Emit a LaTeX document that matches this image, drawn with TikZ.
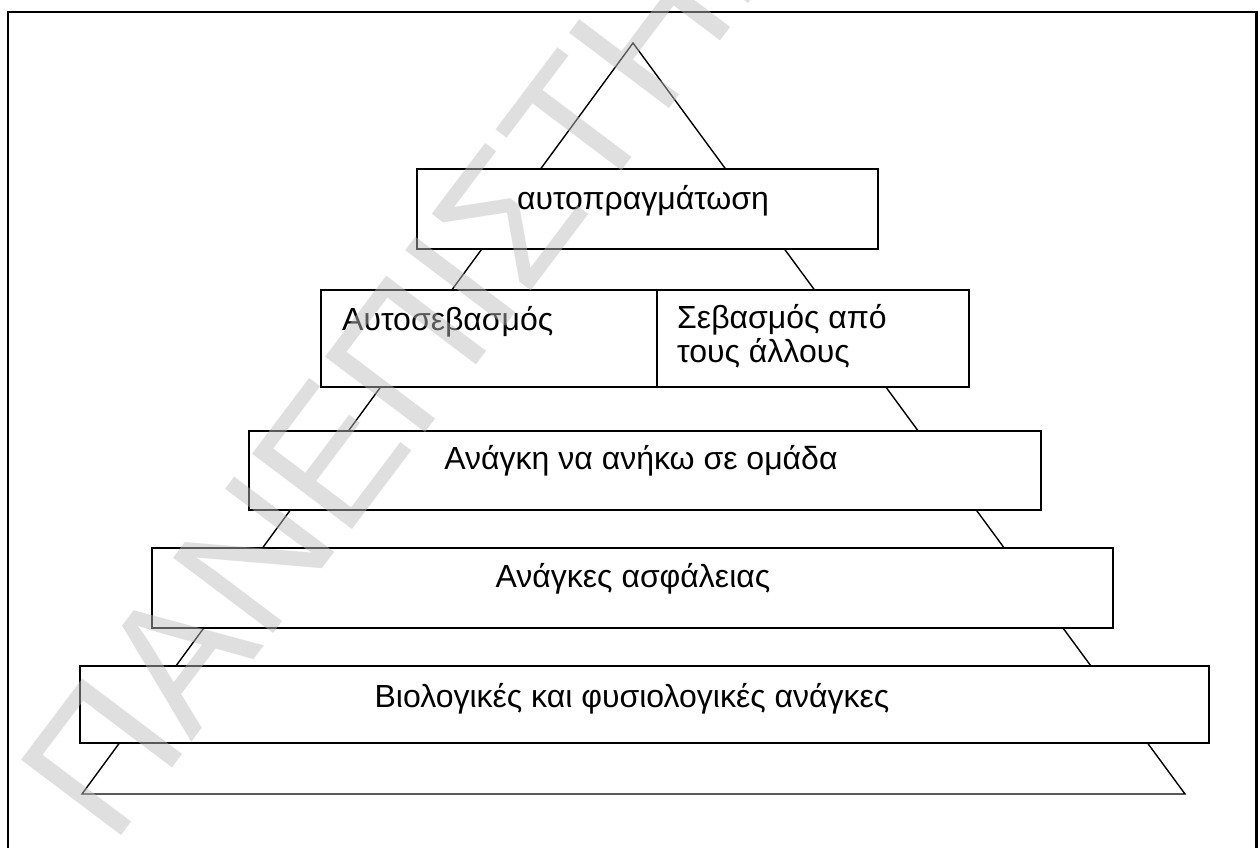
\documentclass[tikz,border=0pt]{standalone}
\usepackage{fontspec}
\setmainfont{Liberation Sans}
\definecolor{wmgray}{RGB}{189,189,189}
\begin{document}
\begin{tikzpicture}[x=1pt,y=-1pt,
  box/.style={draw=black, line width=1.6pt, fill=white, inner sep=0pt, outer sep=0pt, anchor=north west},
  lbl/.style={font=\fontsize{32}{34}\selectfont, inner sep=0pt, anchor=base},
  lblw/.style={lbl, anchor=base west},
  tri/.style={draw=black, line width=1.4pt, line join=miter},
  frame/.style={draw=black, line width=2.5pt},
  wmark/.style={font=\fontsize{182}{182}\selectfont, text=wmgray, text opacity=0.47, inner sep=0pt, anchor=base west, rotate=53}
  ]
\useasboundingbox (0,0) rectangle (1258,848);
\clip (0,0) rectangle (1258,848);
\fill[white] (0,0) rectangle (1258,848);
\draw[frame] (8,12) rectangle (1256.5,880);
% pyramid triangle
\coordinate (apex) at (633,43);
\coordinate (bl) at (82,794);
\coordinate (br) at (1185,794);
\draw[tri] (apex) -- (bl) -- (br) -- cycle;
% boxes
\node[box, minimum width=461pt, minimum height=80pt] (b1) at (417,169) {};
\node[box, minimum width=336pt, minimum height=97pt] (b2a) at (321,290) {};
\node[box, minimum width=312pt, minimum height=97pt] (b2b) at (657,290) {};
\node[box, minimum width=792pt, minimum height=79pt] (b3) at (249,431) {};
\node[box, minimum width=961pt, minimum height=80pt] (b4) at (152,548) {};
\node[box, minimum width=1129pt, minimum height=77pt] (b5) at (80,666) {};
% labels
\node[lbl] (t1) at (643,209) {αυτοπραγμάτωση};
\node[lblw] (t2a) at (342,330) {Αυτοσεβασμός};
\node[lblw] (t2b) at (677,328) {Σεβασμός από};
\node[lblw] (t2c) at (677,362) {τους άλλους};
\node[lbl] (t3) at (641,469) {Ανάγκη να ανήκω σε ομάδα};
\node[lbl] (t4) at (633,587) {Ανάγκες ασφάλειας};
\node[lbl] (t5) at (632,707) {Βιολογικές και φυσιολογικές ανάγκες};
% watermark
\node[wmark] (wm) at (112,848) {ΠΑΝΕΠΙΣΤΗΜ};
\end{tikzpicture}
\end{document}
